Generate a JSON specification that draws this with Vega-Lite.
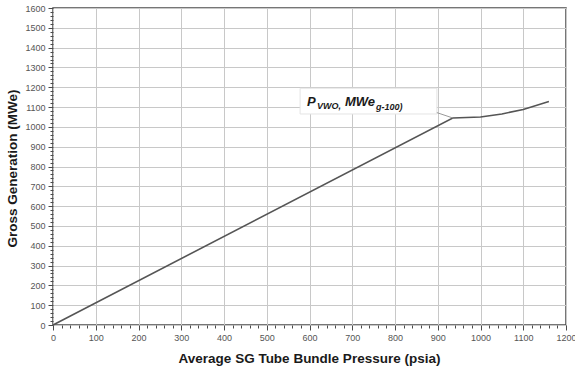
{
  "$schema": "https://vega.github.io/schema/vega-lite/v6.json",
  "autosize": {"type": "none"},
  "width": 513,
  "height": 317,
  "padding": {"left": 53, "top": 8, "right": 9, "bottom": 44},
  "background": "white",
  "config": {
    "view": {"stroke": "#4a4a4a", "strokeWidth": 1.5},
    "axis": {
      "labelFont": "Liberation Sans",
      "labelFontSize": 9,
      "labelColor": "#555555",
      "titleFont": "Liberation Sans",
      "titleFontSize": 13.5,
      "titleFontWeight": "bold",
      "titleColor": "#1a1a1a",
      "domain": false,
      "tickColor": "#4a4a4a",
      "gridColor": "#c8c8c8",
      "gridWidth": 1
    }
  },
  "encoding": {
    "x": {
      "field": "p", "type": "quantitative",
      "scale": {"domain": [0, 1200], "nice": false},
      "axis": {
        "title": "Average SG Tube Bundle Pressure (psia)",
        "values": [0,20,40,60,80,100,120,140,160,180,200,220,240,260,280,300,320,340,360,380,400,420,440,460,480,500,520,540,560,580,600,620,640,660,680,700,720,740,760,780,800,820,840,860,880,900,920,940,960,980,1000,1020,1040,1060,1080,1100,1120,1140,1160,1180,1200],
        "labelExpr": "datum.value % 100 === 0 ? datum.label : ''",
        "format": "d",
        "labelFlush": false,
        "labelOverlap": false,
        "labelPadding": 3,
        "tickSize": {"condition": {"test": "datum.value % 100 === 0", "value": 5}, "value": 3},
        "gridOpacity": {"condition": {"test": "datum.value % 100 === 0", "value": 1}, "value": 0},
        "titleX": 256,
        "titleY": 33,
        "titleBaseline": "middle",
        "titleAlign": "center"
      }
    },
    "y": {
      "field": "mw", "type": "quantitative",
      "scale": {"domain": [0, 1600], "nice": false},
      "axis": {
        "title": "Gross Generation (MWe)",
        "values": [0,20,40,60,80,100,120,140,160,180,200,220,240,260,280,300,320,340,360,380,400,420,440,460,480,500,520,540,560,580,600,620,640,660,680,700,720,740,760,780,800,820,840,860,880,900,920,940,960,980,1000,1020,1040,1060,1080,1100,1120,1140,1160,1180,1200,1220,1240,1260,1280,1300,1320,1340,1360,1380,1400,1420,1440,1460,1480,1500,1520,1540,1560,1580,1600],
        "labelExpr": "datum.value % 100 === 0 ? datum.label : ''",
        "format": "d",
        "labelFlush": false,
        "labelOverlap": false,
        "labelPadding": 3,
        "tickSize": {"condition": {"test": "datum.value % 100 === 0", "value": 5}, "value": 3},
        "gridOpacity": {"condition": {"test": "datum.value % 100 === 0", "value": 1}, "value": 0},
        "titleX": -41,
        "titleY": 160,
        "titleAngle": -90,
        "titleBaseline": "middle",
        "titleAlign": "center"
      }
    }
  },
  "layer": [
    {
      "data": {"values": [
        {"p": 0, "mw": 0},
        {"p": 935, "mw": 1045},
        {"p": 1000, "mw": 1050},
        {"p": 1050, "mw": 1065},
        {"p": 1100, "mw": 1088},
        {"p": 1160, "mw": 1128}
      ]},
      "mark": {"type": "line", "color": "#555555", "strokeWidth": 1.6}
    },
    {
      "data": {"values": [{"p": 578, "p2": 898, "mw": 1065, "mw2": 1195}]},
      "mark": {"type": "rect", "fill": "white", "stroke": "#e4e4e4", "strokeWidth": 1},
      "encoding": {
        "x2": {"field": "p2"},
        "y2": {"field": "mw2"}
      }
    },
    {
      "data": {"values": [{"p": 898, "p2": 935, "mw": 1072, "mw2": 1045}]},
      "mark": {"type": "rule", "color": "#9a9a9a", "strokeWidth": 1},
      "encoding": {
        "x2": {"field": "p2"},
        "y2": {"field": "mw2"}
      }
    },
    {
      "data": {"values": [{"p": 594, "mw": 1105, "main1": "P", "sub1": "VWO,", "main2": "MWe", "sub2": "g-100)"}]},
      "layer": [
        {"mark": {"type": "text", "align": "left", "baseline": "alphabetic", "font": "Liberation Sans", "fontSize": 13, "fontStyle": "italic", "fontWeight": "bold", "color": "#1a1a1a", "dx": 0, "dy": 0}, "encoding": {"text": {"field": "main1"}}},
        {"mark": {"type": "text", "align": "left", "baseline": "alphabetic", "font": "Liberation Sans", "fontSize": 9, "fontStyle": "italic", "fontWeight": "bold", "color": "#1a1a1a", "dx": 10, "dy": 3}, "encoding": {"text": {"field": "sub1"}}},
        {"mark": {"type": "text", "align": "left", "baseline": "alphabetic", "font": "Liberation Sans", "fontSize": 13, "fontStyle": "italic", "fontWeight": "bold", "color": "#1a1a1a", "dx": 38, "dy": 0}, "encoding": {"text": {"field": "main2"}}},
        {"mark": {"type": "text", "align": "left", "baseline": "alphabetic", "font": "Liberation Sans", "fontSize": 9, "fontStyle": "italic", "fontWeight": "bold", "color": "#1a1a1a", "dx": 69, "dy": 4}, "encoding": {"text": {"field": "sub2"}}}
      ]
    }
  ]
}
